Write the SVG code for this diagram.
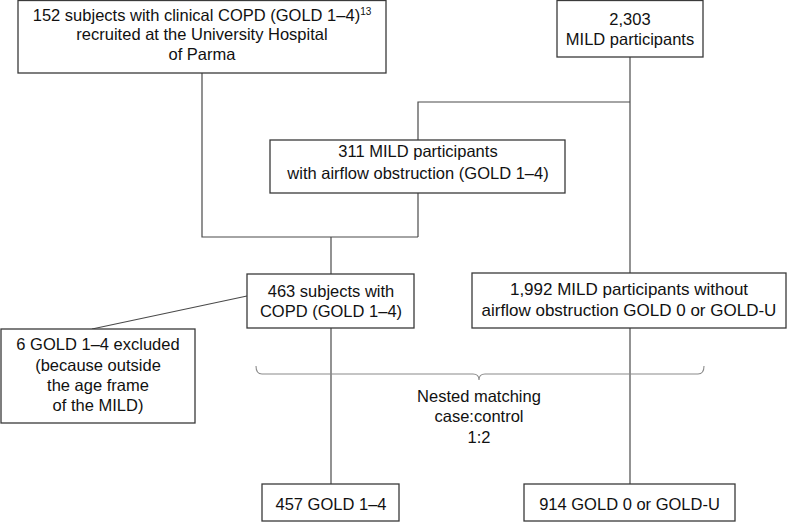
<svg xmlns="http://www.w3.org/2000/svg" width="789" height="522" viewBox="0 0 789 522">
<style>
.box{fill:#fff;stroke:#3a3a3a;stroke-width:1.3}
.ln{fill:none;stroke:#4a4a4a;stroke-width:1.2}
.br{fill:none;stroke:#8a8a8a;stroke-width:1.1}
text{font-family:"Liberation Sans",Arial,sans-serif;font-size:16.5px;fill:#111;text-anchor:middle}
.big{font-size:17px}
.sup{font-size:10px}
</style>
<rect width="789" height="522" fill="#fff"/>
<g id="connectors">
<path class="ln" d="M202,73V237H418"/>
<path class="ln" d="M418,193V237"/>
<path class="ln" d="M331,237V274"/>
<path class="ln" d="M630,57V484"/>
<path class="ln" d="M630,102H418V140"/>
<path class="ln" d="M331,328V484"/>
<path class="ln" d="M247,296L92,329"/>
<path class="br" d="M256,366Q256,374 262,374H473Q479,374 479,380Q479,374 485,374H698Q704,374 704,366"/>
</g>
<g id="n1"><rect class="box" x="18" y="0.5" width="368" height="72.5"/>
<text x="202" y="21">152 subjects with clinical COPD (GOLD 1–4)<tspan class="sup" dy="-6">13</tspan></text>
<text x="202" y="40">recruited at the University Hospital</text>
<text x="202" y="60">of Parma</text></g>
<g id="n2"><rect class="box" x="557" y="0.5" width="146" height="56.5"/>
<text x="630" y="25">2,303</text>
<text x="630" y="45">MILD participants</text></g>
<g id="n3"><rect class="box" x="270" y="140" width="295" height="53"/>
<text x="418" y="157">311 MILD participants</text>
<text x="418" y="179">with airflow obstruction (GOLD 1–4)</text></g>
<g id="n4"><rect class="box" x="247" y="274" width="167" height="54"/>
<text x="331" y="297">463 subjects with</text>
<text x="331" y="317">COPD (GOLD 1–4)</text></g>
<g id="n5"><rect class="box" x="1" y="329" width="194" height="94"/>
<text x="98" y="350">6 GOLD 1–4 excluded</text>
<text x="98" y="371">(because outside</text>
<text x="98" y="391">the age frame</text>
<text x="98" y="411">of the MILD)</text></g>
<g id="n6"><rect class="box" x="472" y="273" width="314" height="55"/>
<text class="big" x="629" y="295">1,992 MILD participants without</text>
<text class="big" x="629" y="316">airflow obstruction GOLD 0 or GOLD-U</text></g>
<g id="label"><text x="479" y="402">Nested matching</text>
<text x="479" y="422">case:control</text>
<text x="479" y="443">1:2</text></g>
<g id="n7"><rect class="box" x="262" y="484" width="137" height="37"/>
<text x="331" y="510">457 GOLD 1–4</text></g>
<g id="n8"><rect class="box" x="524" y="484" width="211" height="37"/>
<text x="629.5" y="510">914 GOLD 0 or GOLD-U</text></g>
</svg>
